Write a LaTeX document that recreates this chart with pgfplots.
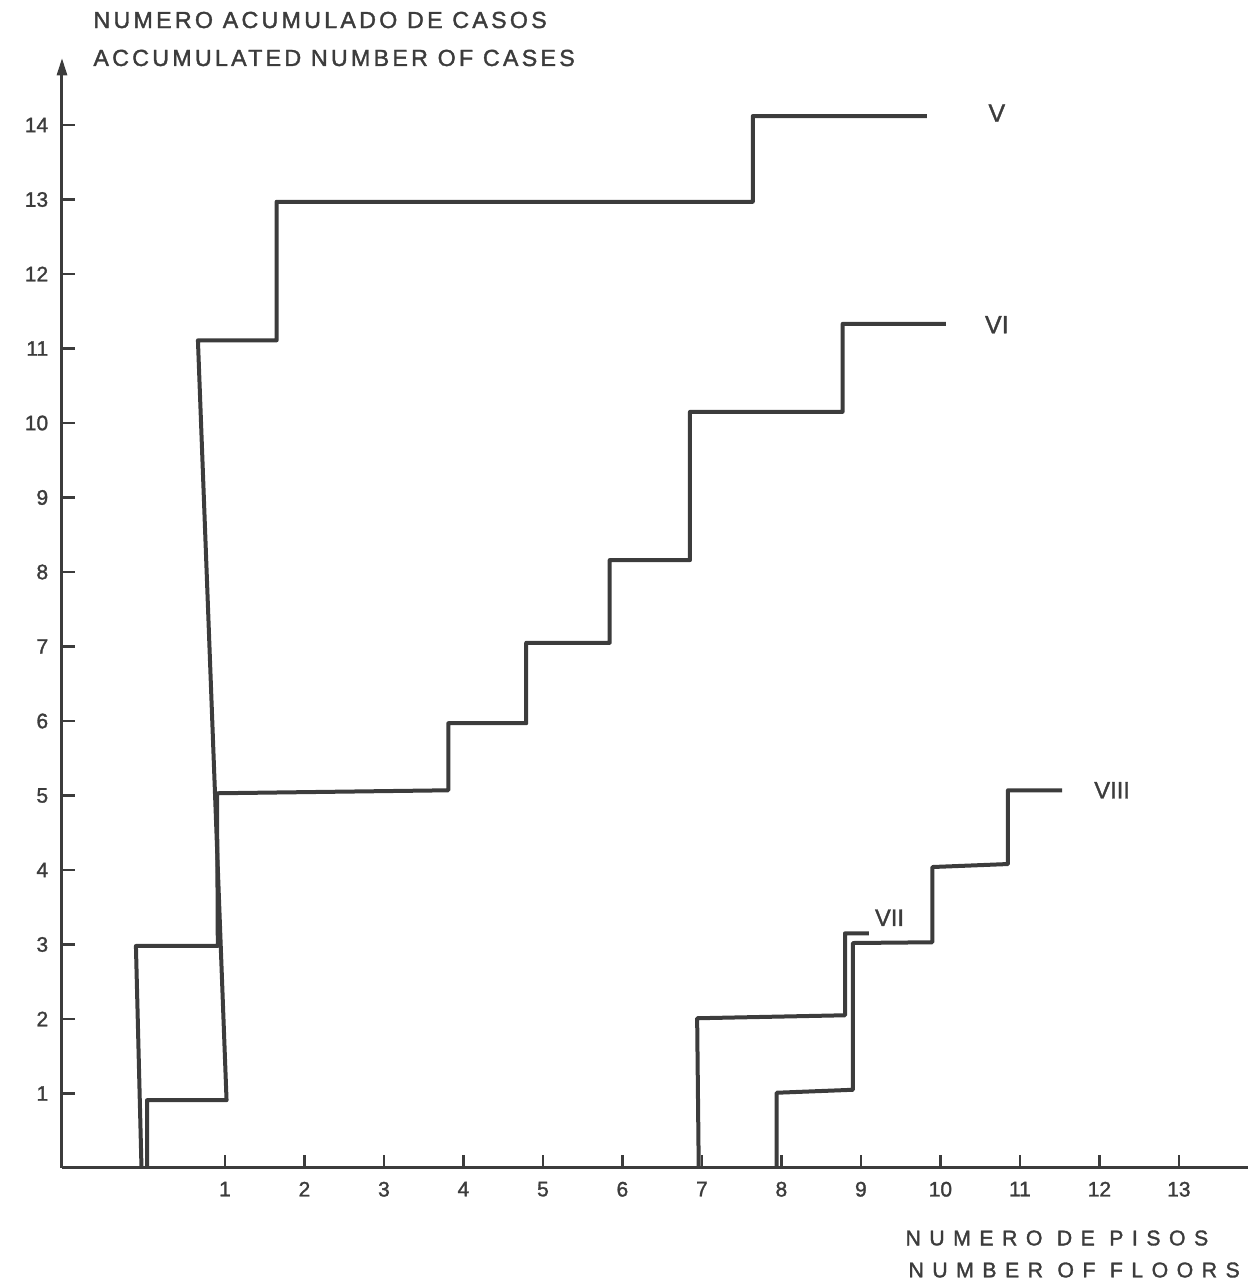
\documentclass[border=0pt]{standalone}
\usepackage{pgfplots}
\pgfplotsset{compat=1.18}
\usepackage{fontspec}
\setmainfont{Liberation Sans}[FakeBold=1.4]
\newfontfamily\titlefont{Liberation Sans}[LetterSpace=14, FakeBold=1.6]
\newfontfamily\floorfont{Liberation Sans}[LetterSpace=40, FakeBold=1.6]
\usetikzlibrary{arrows.meta}

\definecolor{ink}{HTML}{3C3C3C}

% Cumulative number of cases against number of floors, one staircase per intensity
\pgfplotstableread{
x y
0.02 0
0.02 0.91
1.02 0.91
0.66 11.11
1.65 11.11
1.65 12.97
7.64 12.97
7.64 14.12
9.83 14.12
}\curveV
\pgfplotstableread{
x y
-0.05 0
-0.12 2.98
0.91 2.98
0.90 5.03
3.81 5.07
3.81 5.97
4.79 5.97
4.79 7.05
5.84 7.05
5.84 8.16
6.85 8.16
6.85 10.15
8.77 10.15
8.77 11.33
10.07 11.33
}\curveVI
\pgfplotstableread{
x y
6.96 0
6.94 2.01
8.80 2.05
8.80 3.15
9.10 3.15
}\curveVII
\pgfplotstableread{
x y
7.94 0
7.94 1.01
8.90 1.05
8.90 3.02
9.90 3.03
9.90 4.04
10.85 4.08
10.85 5.07
11.53 5.07
}\curveVIII

\begin{document}
\begin{tikzpicture}
\begin{axis}[
  scale only axis,
  width=474.4pt, height=444pt,
  xmin=-1.05, xmax=13.87, ymin=0, ymax=14.9,
  axis x line=bottom, axis y line=left,
  x axis line style={-, line width=1.2pt, ink},
  y axis line style={-{Triangle[length=7pt,width=4pt]}, line width=1.2pt, ink},
  xtick={1,...,13}, ytick={1,...,14},
  tick align=inside,
  major tick length=5pt,
  tick style={ink, line width=0.9pt},
  ticklabel style={font=\fontsize{8.4}{10}\selectfont, text=ink},
  xticklabel style={yshift=-2pt},
  yticklabel style={xshift=-2pt},
  /pgf/number format/assume math mode=true,
  clip=false,
]
\path (rel axis cs:-0.05228,-0.10721) rectangle (rel axis cs:1.00337,1.05225);

\addplot[ink, line width=1.6pt, line join=round] table {\curveV};
\addplot[ink, line width=1.6pt, line join=round] table {\curveVI};
\addplot[ink, line width=1.6pt, line join=round] table {\curveVII};
\addplot[ink, line width=1.6pt, line join=round] table {\curveVIII};

\node[text=ink, font=\fontsize{10}{12}\selectfont] at (axis cs:10.71,14.16) {V};
\node[text=ink, font=\fontsize{10}{12}\selectfont] at (axis cs:10.71,11.32) {VI};
\node[text=ink, font=\fontsize{9.5}{11}\selectfont] at (axis cs:9.36,3.36) {VII};
\node[text=ink, font=\fontsize{9.5}{11}\selectfont] at (axis cs:12.16,5.07) {VIII};

\node[anchor=west, inner sep=0pt, text=ink, font=\titlefont\fontsize{9.3}{11}\selectfont]
  at (rel axis cs:0.0261,1.0342) {NUMERO ACUMULADO DE CASOS};
\node[anchor=west, inner sep=0pt, text=ink, font=\titlefont\fontsize{9.3}{11}\selectfont]
  at (rel axis cs:0.0261,1.0) {ACCUMULATED NUMBER OF CASES};
\node[anchor=west, inner sep=0pt, text=ink, font=\floorfont\fontsize{8.5}{10}\selectfont]
  at (rel axis cs:0.7108,-0.0631) {NUMERO DE PISOS};
\node[anchor=west, inner sep=0pt, text=ink, font=\floorfont\fontsize{8.5}{10}\selectfont]
  at (rel axis cs:0.7133,-0.0919) {NUMBER OF FLOORS};
\end{axis}
\end{tikzpicture}
\end{document}
